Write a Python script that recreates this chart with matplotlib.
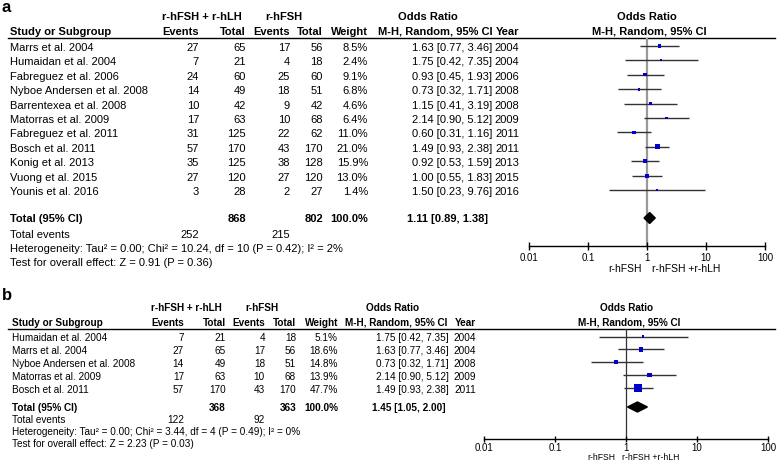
import numpy as np
import matplotlib.pyplot as plt

plt.rcParams['font.family'] = ['Liberation Sans', 'DejaVu Sans']

# ---- panel a: all studies ----
studies_a = ["Marrs et al. 2004", "Humaidan et al. 2004", "Fabreguez et al. 2006",
             "Nyboe Andersen et al. 2008", "Barrentexea et al. 2008", "Matorras et al. 2009",
             "Fabreguez et al. 2011", "Bosch et al. 2011", "Konig et al. 2013",
             "Vuong et al. 2015", "Younis et al. 2016"]
ev_lh_a = [27, 7, 24, 14, 10, 17, 31, 57, 35, 27, 3]
tot_lh_a = [65, 21, 60, 49, 42, 63, 125, 170, 125, 120, 28]
ev_fsh_a = [17, 4, 25, 18, 9, 10, 22, 43, 38, 27, 2]
tot_fsh_a = [56, 18, 60, 51, 42, 68, 62, 170, 128, 120, 27]
weight_a = [8.5, 2.4, 9.1, 6.8, 4.6, 6.4, 11.0, 21.0, 15.9, 13.0, 1.4]
or_a = [1.63, 1.75, 0.93, 0.73, 1.15, 2.14, 0.60, 1.49, 0.92, 1.00, 1.50]
lo_a = [0.77, 0.42, 0.45, 0.32, 0.41, 0.90, 0.31, 0.93, 0.53, 0.55, 0.23]
hi_a = [3.46, 7.35, 1.93, 1.71, 3.19, 5.12, 1.16, 2.38, 1.59, 1.83, 9.76]
year_a = [2004, 2004, 2006, 2008, 2008, 2009, 2011, 2011, 2013, 2015, 2016]
total_a = (868, 802, 1.11, 0.89, 1.38)
events_a = (252, 215)
het_a = "Heterogeneity: Tau² = 0.00; Chi² = 10.24, df = 10 (P = 0.42); I² = 2%"
test_a = "Test for overall effect: Z = 0.91 (P = 0.36)"

# ---- panel b: subset ----
studies_b = ["Humaidan et al. 2004", "Marrs et al. 2004", "Nyboe Andersen et al. 2008",
             "Matorras et al. 2009", "Bosch et al. 2011"]
ev_lh_b = [7, 27, 14, 17, 57]
tot_lh_b = [21, 65, 49, 63, 170]
ev_fsh_b = [4, 17, 18, 10, 43]
tot_fsh_b = [18, 56, 51, 68, 170]
weight_b = [5.1, 18.6, 14.8, 13.9, 47.7]
or_b = [1.75, 1.63, 0.73, 2.14, 1.49]
lo_b = [0.42, 0.77, 0.32, 0.90, 0.93]
hi_b = [7.35, 3.46, 1.71, 5.12, 2.38]
year_b = [2004, 2004, 2008, 2009, 2011]
total_b = (368, 363, 1.45, 1.05, 2.00)
events_b = (122, 92)
het_b = "Heterogeneity: Tau² = 0.00; Chi² = 3.44, df = 4 (P = 0.49); I² = 0%"
test_b = "Test for overall effect: Z = 2.23 (P = 0.03)"

ticks = [0.01, 0.1, 1, 10, 100]
tick_labels = ["0.01", "0.1", "1", "10", "100"]

W, H = 777, 464
fig = plt.figure(figsize=(W / 100, H / 100), dpi=100)
ax = fig.add_axes([0, 0, 1, 1])
ax.set_xlim(0, W)
ax.set_ylim(H, 0)
ax.axis('off')


def txt(x, y, s, fs, ha='left', bold=False):
    ax.text(x, y, s, fontsize=fs, ha=ha, va='center',
            fontweight='bold' if bold else 'normal')


def panel(letter, L, studies, ev1, n1, ev2, n2, wt, orr, lo, hi, yr, total, events, het, test):
    fs = L['fs']
    c = L['cols']
    txt(2, L['ly'], letter, 12, bold=True)
    # headers
    txt(L['g1'], L['h1'], "r-hFSH + r-hLH", fs, 'center', True)
    txt(L['g2'], L['h1'], "r-hFSH", fs, 'center', True)
    txt(L['orh'], L['h1'], "Odds Ratio", fs, 'center', True)
    txt(c[0], L['h2'], "Study or Subgroup", fs, bold=True)
    for x, s in zip(c[1:6], ["Events", "Total", "Events", "Total", "Weight"]):
        txt(x, L['h2'], s, fs, 'right', True)
    txt(L['mh'], L['h2'], "M-H, Random, 95% CI", fs, 'right', True)
    txt(c[7], L['h2'], "Year", fs, 'right', True)
    ax.plot([8, 775], [L['line'], L['line']], color='black', lw=1.0)

    ys = [L['r0'] + i * L['dy'] for i in range(len(studies))]
    for i, y in enumerate(ys):
        txt(c[0], y, studies[i], fs)
        txt(c[1], y, str(ev1[i]), fs, 'right')
        txt(c[2], y, str(n1[i]), fs, 'right')
        txt(c[3], y, str(ev2[i]), fs, 'right')
        txt(c[4], y, str(n2[i]), fs, 'right')
        txt(c[5], y, f"{wt[i]:.1f}%", fs, 'right')
        txt(c[6], y, f"{orr[i]:.2f} [{lo[i]:.2f}, {hi[i]:.2f}]", fs, 'right')
        txt(c[7], y, str(yr[i]), fs, 'right')

    yt = L['tot']
    txt(c[0], yt, "Total (95% CI)", fs, bold=True)
    txt(c[2], yt, str(total[0]), fs, 'right', True)
    txt(c[4], yt, str(total[1]), fs, 'right', True)
    txt(c[5], yt, "100.0%", fs, 'right', True)
    txt(c[6] - 4, yt, f"{total[2]:.2f} [{total[3]:.2f}, {total[4]:.2f}]", fs, 'right', True)
    txt(c[0], L['ev'], "Total events", fs)
    txt(c[1], L['ev'], str(events[0]), fs, 'right')
    txt(c[3], L['ev'], str(events[1]), fs, 'right')
    txt(c[0], L['het'], het, fs)
    txt(c[0], L['test'], test, fs)

    # forest plot
    x0, x1, top, bot = L['box']
    f = fig.add_axes([x0 / W, 1 - bot / H, (x1 - x0) / W, (bot - top) / H])
    f.set_xscale('log')
    f.set_xlim(0.01, 100)
    f.set_ylim(bot, top)
    f.patch.set_visible(False)
    for s in ['top', 'left', 'right']:
        f.spines[s].set_visible(False)
    f.spines['bottom'].set_linewidth(1.0)
    f.set_xticks(ticks)
    f.set_xticklabels(tick_labels)
    f.minorticks_off()
    f.set_yticks([])
    f.tick_params(axis='x', direction='inout', length=L['tl'], width=1.0,
                  labelsize=7, pad=L['pad'])

    f.axvline(1, color=L['vcol'], lw=L['vlw'], zorder=1)
    ym = [y - 1 for y in ys]
    f.hlines(ym, lo, hi, color='#333333', lw=1.0, zorder=2)
    side = np.maximum(2.2, 1.1 * np.sqrt(wt)) * 0.72
    f.scatter(orr, ym, s=side ** 2, marker='s', color='#0000cc', linewidths=0, zorder=3)
    dh = L['dh']
    f.fill([total[3], total[2], total[4], total[2]], [yt, yt - dh, yt, yt + dh],
           color='black', zorder=4)

    txt(L['lab'][0], L['lab'][2], "r-hFSH", L['labfs'], 'right')
    txt(L['lab'][1], L['lab'][2], "r-hFSH +r-hLH", L['labfs'], 'left')
    txt(L['fc'], L['h1'], "Odds Ratio", fs, 'center', True)
    txt(L['fc'] + 2, L['h2'], "M-H, Random, 95% CI", fs, 'center', True)


layout_a = dict(fs=8, ly=8, h1=17, h2=32, line=38.5, r0=48, dy=14.4, tot=219, ev=235,
                het=249, test=263, cols=[10, 199, 246, 290, 323, 368, 492, 519],
                g1=202, g2=284, orh=428, mh=493, box=(529, 765, 38.5, 246.5),
                lab=(642, 652, 269), labfs=7.5, fc=647, dh=5.5, vcol='#999999', vlw=1.6,
                tl=6, pad=1.5)
layout_b = dict(fs=7.2, ly=296, h1=308, h2=323, line=329.5, r0=338.5, dy=12.9, tot=408,
                ev=420, het=432, test=444, cols=[12, 184, 226, 265, 296, 338, 449, 476],
                g1=186, g2=262, orh=393, mh=447, box=(484, 768, 329.5, 439.5),
                lab=(615, 622, 457.5), labfs=6.2, fc=627, dh=5, vcol='#333333', vlw=0.9,
                tl=5, pad=0.3)

panel("a", layout_a, studies_a, ev_lh_a, tot_lh_a, ev_fsh_a, tot_fsh_a, weight_a,
      or_a, lo_a, hi_a, year_a, total_a, events_a, het_a, test_a)
panel("b", layout_b, studies_b, ev_lh_b, tot_lh_b, ev_fsh_b, tot_fsh_b, weight_b,
      or_b, lo_b, hi_b, year_b, total_b, events_b, het_b, test_b)

fig.savefig("out.png", dpi=100)
